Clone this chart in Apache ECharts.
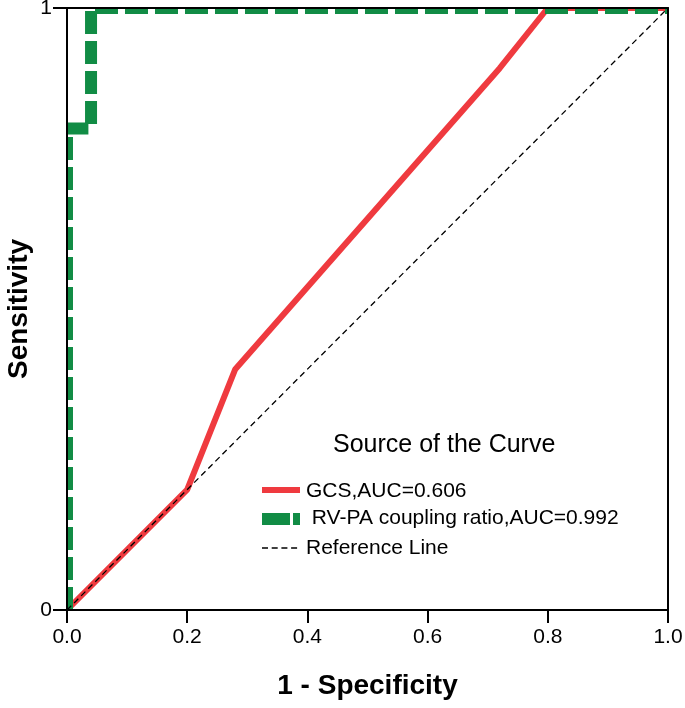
<!DOCTYPE html>
<html>
<head>
<meta charset="utf-8">
<script src="https://cdn.jsdelivr.net/npm/echarts@6/dist/echarts.min.js"></script>
<style>html,body{margin:0;padding:0;background:#fff;}#c{width:685px;height:708px;}</style>
</head>
<body>
<div id="c"></div>
<script>
// ROC curve data: [1 - Specificity, Sensitivity]
const gcsX = [0, 0.2, 0.28, 0.72, 0.8, 1.0];
const gcsY = [0, 0.2, 0.4, 0.9, 1.0, 1.0];
const rvpaX = [0, 0, 0.04, 0.04, 1.0];
const rvpaY = [0, 0.8, 0.8, 1.0, 1.0];
const refX = [0, 1];
const refY = [0, 1];
const seriesNames = ['GCS,AUC=0.606', ' RV-PA coupling ratio,AUC=0.992', 'Reference Line'];
const xTickLabels = ['0.0', '0.2', '0.4', '0.6', '0.8', '1.0'];
const yTickLabels = ['0', '1'];

const RED = '#ef3a3f', GREEN = '#118c45';
const FONT = 'Liberation Sans, Arial, sans-serif';
const zip = (a, b) => a.map((v, i) => [v, b[i]]);

const G = {left: 67, top: 8, right: 668, bottom: 610};
const chart = echarts.init(document.getElementById('c'));
chart.setOption({
  animation: false,
  backgroundColor: '#fff',
  grid: {left: G.left, top: G.top, right: 685 - G.right, bottom: 708 - G.bottom,
         containLabel: false, outerBoundsMode: 'none'},
  xAxis: [{
    type: 'value', min: 0, max: 1, interval: 0.2, z: 10,
    axisLine: {show: true, lineStyle: {color: '#000', width: 2}},
    axisTick: {show: true, inside: false, length: 13, lineStyle: {color: '#000', width: 2}},
    splitLine: {show: false},
    axisLabel: {margin: 17, color: '#000', fontSize: 21, fontFamily: FONT,
      formatter: v => xTickLabels[Math.round(v / 0.2)]},
    name: '1 - Specificity', nameLocation: 'middle', nameGap: 62,
    nameTextStyle: {color: '#000', fontSize: 28, fontWeight: 'bold', fontFamily: FONT}
  }, {
    type: 'value', min: 0, max: 1, position: 'top', z: 10,
    axisLine: {show: true, onZero: false, lineStyle: {color: '#000', width: 2}},
    axisTick: {show: false}, axisLabel: {show: false}, splitLine: {show: false}
  }],
  yAxis: [{
    type: 'value', min: 0, max: 1, interval: 1, z: 10,
    axisLine: {show: true, lineStyle: {color: '#000', width: 2}},
    axisTick: {show: true, inside: false, length: 14, lineStyle: {color: '#000', width: 2}},
    splitLine: {show: false},
    axisLabel: {margin: 15, color: '#000', fontSize: 21, fontFamily: FONT,
      formatter: v => yTickLabels[Math.round(v)]}
  }, {
    type: 'value', min: 0, max: 1, position: 'right', z: 10,
    axisLine: {show: true, onZero: false, lineStyle: {color: '#000', width: 2}},
    axisTick: {show: false}, axisLabel: {show: false}, splitLine: {show: false}
  }],
  series: [{
    name: seriesNames[0], type: 'line', data: zip(gcsX, gcsY), symbol: 'none', z: 2,
    lineStyle: {color: RED, width: 6}
  }, {
    name: seriesNames[1], type: 'line', data: zip(rvpaX, rvpaY), symbol: 'none', z: 3,
    lineStyle: {color: GREEN, width: 12, type: [23, 7], cap: 'butt', join: 'miter'}
  }, {
    name: seriesNames[2], type: 'line', data: zip(refX, refY), symbol: 'none', z: 4,
    lineStyle: {color: '#000', width: 1.3, type: [6, 4]}
  }],
  graphic: [
    // masks outside plot area (clip thick lines at the frame)
    {type: 'rect', z: 5, silent: true, shape: {x: 0, y: 0, width: G.left, height: 708}, style: {fill: '#fff'}},
    {type: 'rect', z: 5, silent: true, shape: {x: 0, y: 0, width: 685, height: G.top}, style: {fill: '#fff'}},
    {type: 'rect', z: 5, silent: true, shape: {x: G.right, y: 0, width: 685 - G.right, height: 708}, style: {fill: '#fff'}},
    {type: 'rect', z: 5, silent: true, shape: {x: 0, y: G.bottom, width: 685, height: 708 - G.bottom}, style: {fill: '#fff'}},
    // y axis title
    {type: 'text', z: 20, x: 19, y: 309, rotation: Math.PI / 2,
     style: {text: 'Sensitivity', fill: '#000', font: 'bold 28px ' + FONT, textAlign: 'center', textVerticalAlign: 'middle'}},
    // legend
    {type: 'text', z: 20, left: 333, top: 433, style: {text: 'Source of the Curve', fill: '#000', font: '25px ' + FONT}},
    {type: 'line', z: 20, shape: {x1: 262, y1: 490, x2: 300, y2: 490}, style: {stroke: RED, lineWidth: 6}},
    {type: 'text', z: 20, left: 306, top: 481, style: {text: seriesNames[0], fill: '#000', font: '21px ' + FONT}},
    {type: 'line', z: 20, shape: {x1: 262, y1: 519, x2: 300, y2: 519}, style: {stroke: GREEN, lineWidth: 12, lineDash: [28, 3], lineCap: 'butt'}},
    {type: 'text', z: 20, left: 306, top: 508, style: {text: seriesNames[1], fill: '#000', font: '21px ' + FONT}},
    {type: 'line', z: 20, shape: {x1: 262, y1: 548, x2: 300, y2: 548}, style: {stroke: '#000', lineWidth: 1.3, lineDash: [6, 3.7]}},
    {type: 'text', z: 20, left: 306, top: 538, style: {text: seriesNames[2], fill: '#000', font: '21px ' + FONT}}
  ]
});
</script>
</body>
</html>
